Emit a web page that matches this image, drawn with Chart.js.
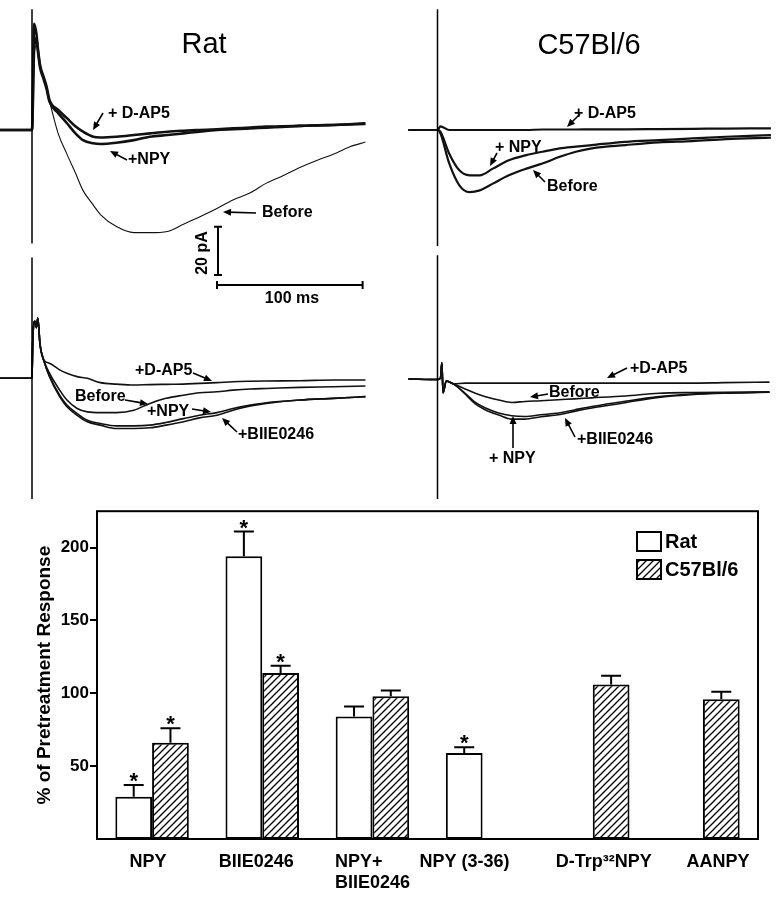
<!DOCTYPE html>
<html>
<head>
<meta charset="utf-8">
<title>NPY and NMDA responses</title>
<script src="https://cdn.jsdelivr.net/npm/chart.js@4.4.1/dist/chart.umd.min.js"></script>
<style>
  body { margin: 0; background: #fff; }
  canvas { display: block; }
</style>
</head>
<body>
<canvas id="traces" width="784" height="500"></canvas>
<canvas id="bars" width="784" height="399"></canvas>
<script>
// ---- traces (time in ms from stimulus, current in pA from baseline) ----
const ratTopTime = [-22, 0, 1.5, 3, 4, 5.5, 8, 10, 12, 18, 24, 30, 35, 42, 47, 58, 70, 81, 93, 104, 115, 127, 138, 150, 161, 172, 184, 196, 207, 218, 229];
const ratTopBefore = [0, 0, 31, 35, 33, 26, 21, 17, 12, -1.5, -10, -18, -25, -31, -35, -40, -42.5, -42.5, -42, -39, -36, -32.5, -29, -26, -22, -19, -15.5, -12.5, -10, -7, -5];
const ratTopNPY = [0, 0, 34, 38, 33, 26, 21, 17, 11.8, 7, 2.8, -1.5, -4.2, -5.5, -5.8, -5.3, -4.2, -2.8, -2.1, -1.4, -0.7, 0, 0.3, 0.6, 1, 1.3, 1.7, 1.9, 2.1, 2.3, 2.5];
const ratTopDAP5 = [0, 0, 44, 40, 34, 27, 22, 18, 12.5, 8.3, 4.9, 1.4, -0.7, -2.8, -3.1, -2.8, -2.1, -1.4, -0.7, -0.3, 0, 0.3, 0.7, 1, 1.4, 1.5, 1.7, 1.9, 2.1, 2.4, 2.8];

const c57TopTime = [-20, 0, 2, 8, 15, 22, 29, 38, 49, 61, 72, 84, 95, 106, 129, 152, 175, 198, 229];
const c57TopBefore = [0, 0, -1.4, -13.75, -22.9, -25.7, -25, -22.2, -18.75, -16, -13.9, -11.1, -9, -7.6, -6.25, -5.1, -4.6, -3.75, -3.2];
const c57TopNPY = [0, 0, -0.7, -9.7, -16.7, -18.75, -18.75, -16, -12.5, -10.4, -9, -7.6, -6.9, -6.25, -4.9, -4.2, -3.5, -2.8, -2.1];
const c57TopDAP5 = [0, 0, 1.5, 0, 0, 0, 0, 0, 0, 0, 0.2, 0.2, 0.2, 0.3, 0.3, 0.4, 0.5, 0.6, 0.7];

const ratBotTime = [-22, 0, 0.5, 2, 3, 4, 5.5, 8, 12, 19, 24, 31, 38, 47, 58, 70, 81, 92, 104, 115, 127, 138, 150, 161, 184, 207, 229];
const ratBotDAP5 = [0, 0, 15, 23.6, 21, 25, 14, 7.6, 6.25, 3.5, 2.1, 0.7, 0, -1.8, -2.4, -2.8, -2.6, -2.5, -2.4, -2.1, -1.8, -1.4, -1.2, -1.1, -1.0, -0.7, -0.7];
const ratBotBefore = [0, 0, 15, 23.6, 21, 25, 14, 7.6, 2.1, -4.9, -9, -12.5, -13.9, -14.2, -14.2, -13.2, -10.4, -8.3, -7, -6, -5.6, -4.9, -4.4, -4.2, -3.75, -3.5, -3.2];
const ratBotNPY = [0, 0, 15, 23.6, 21, 25, 14, 7.6, 1, -7, -11.1, -14.6, -17.4, -18.75, -19.7, -19.7, -19.4, -18.3, -16.7, -15.3, -14.2, -12.5, -11.1, -10.1, -9, -8.3, -7.6];
const ratBotBIIE = [0, 0, 15, 23.6, 21, 25, 14, 7.6, 0.7, -7.6, -11.8, -15.3, -18, -19.4, -20.8, -20.8, -20.5, -19.4, -18, -16.4, -15.3, -13.2, -11.5, -10.4, -9, -8.3, -7.6];

const c57BotTime = [-20, 0, 2, 3, 3.8, 6, 8, 11, 19, 26, 33, 42, 51, 60, 71, 83, 94, 106, 129, 152, 174, 197, 228];
const c57BotDAP5 = [-0.3, -0.5, 0, 6.4, -6, -1.1, -1.5, -2.3, -2, -2, -2, -2, -2, -2, -2, -2, -2, -2, -2, -2, -2, -1.8, -1.6];
const c57BotBefore = [-0.3, -0.5, 0, 6.4, -6, -1.1, -1.5, -2.3, -4.4, -6.2, -7.6, -9, -10, -9.6, -9.3, -8.9, -8.5, -8.1, -7.3, -6.2, -5.9, -5.8, -5.8];
const c57BotNPY = [-0.3, -0.5, 0, 6.4, -6, -1.1, -1.5, -2.3, -6.5, -10.6, -13.1, -15.2, -16.9, -16.9, -15.9, -15.1, -13.7, -12.3, -10.1, -7.9, -6.8, -6.2, -5.8];
const c57BotBIIE = [-0.3, -0.5, 0, 6.4, -6, -1.1, -1.5, -2.3, -6.2, -10, -12.3, -14.4, -15.5, -15.8, -15.1, -14.4, -13.1, -11.7, -9.5, -7.6, -6.5, -6, -5.6];

// stimulus artifacts (top, bottom of the vertical line, pA)
const ratTopStim = [50, -47];
const c57TopStim = [50, -48];
const ratBotStim = [50, -50];
const c57BotStim = [51, -50];

// ---- bar chart ----
const categories = [['NPY'], ['BIIE0246'], ['NPY+', 'BIIE0246'], ['NPY (3-36)'], ['D-Trp\u00B3\u00B2NPY'], ['AANPY']];
const seriesNames = ['Rat', 'C57Bl/6'];
const ratValues = [29, 194, 84, 59, null, null];
const ratErr = [8, 17, 7, 4, null, null];
const ratStar = [true, true, false, true, false, false];
const c57Values = [66, 114, 98, null, 106, 96];
const c57Err = [10, 5, 4, null, 6, 5];
const c57Star = [true, true, false, false, false, false];
const yTicks = [50, 100, 150, 200];

const FONT = '"Liberation Sans", Arial, Helvetica, sans-serif';
Chart.defaults.font.family = FONT;
Chart.defaults.color = '#000';

// trace canvas geometry: 1.456 px per ms, 2.415 px per pA
const W = 784, H = 500, msPx = 1.456, pAPx = 2.415;
function xRange(stimPx) { const min = -stimPx / msPx; return { min, max: min + W / msPx }; }
function yRange(basePx) { const max = basePx / pAPx; return { min: max - H / pAPx, max }; }

function trace(xAxisID, yAxisID, times, vals, width) {
  return {
    xAxisID, yAxisID,
    data: times.map((t, i) => ({ x: t, y: vals[i] })),
    borderColor: '#111', borderWidth: width, pointRadius: 0,
    cubicInterpolationMode: 'monotone', borderJoinStyle: 'round', clip: false, fill: false
  };
}
function stim(xAxisID, yAxisID, span) {
  return {
    xAxisID, yAxisID,
    data: [{ x: 0, y: span[0] }, { x: 0, y: span[1] }],
    borderColor: '#000', borderWidth: 1.5, pointRadius: 0, clip: false
  };
}

function arrow(ctx, x1, y1, x2, y2) {
  const a = Math.atan2(y2 - y1, x2 - x1);
  ctx.beginPath();
  ctx.moveTo(x1, y1);
  ctx.lineTo(x2 - 5 * Math.cos(a), y2 - 5 * Math.sin(a));
  ctx.stroke();
  ctx.beginPath();
  ctx.moveTo(x2, y2);
  ctx.lineTo(x2 - 8 * Math.cos(a) + 3.5 * Math.sin(a), y2 - 8 * Math.sin(a) - 3.5 * Math.cos(a));
  ctx.lineTo(x2 - 8 * Math.cos(a) - 3.5 * Math.sin(a), y2 - 8 * Math.sin(a) + 3.5 * Math.cos(a));
  ctx.closePath();
  ctx.fill();
}

// labels and arrows on the traces
const traceLabels = [
  ['+ D-AP5', 108, 114], ['+NPY', 128, 160], ['Before', 262, 213],
  ['+ D-AP5', 574, 114], ['+ NPY', 495, 148], ['Before', 547, 187],
  ['+D-AP5', 135, 371], ['Before', 75, 397], ['+NPY', 147, 412], ['+BIIE0246', 238, 435],
  ['+D-AP5', 630, 369], ['Before', 549, 393], ['+BIIE0246', 577, 440], ['+ NPY', 489, 459]
];
const traceArrows = [
  [103, 113, 93, 130], [127, 160, 110, 151], [256, 213, 223, 212],
  [580, 114, 567, 127], [497, 153, 490, 166], [545, 182, 533, 170],
  [193, 373, 212, 381], [125, 400, 148, 404], [192, 409, 211, 412], [237, 432, 222, 418],
  [627, 368, 607, 378], [548, 394, 530, 397], [575, 437, 565, 418], [513, 448, 513, 416]
];

const traceNotes = {
  id: 'traceNotes',
  afterDraw(chart) {
    const { ctx, scales } = chart;
    ctx.save();
    ctx.fillStyle = '#000';
    ctx.strokeStyle = '#000';
    ctx.textBaseline = 'middle';
    ctx.textAlign = 'center';
    ctx.font = '29px ' + FONT;
    ctx.fillText('Rat', 204, 45);
    ctx.fillText('C57Bl/6', 589, 46);

    ctx.font = 'bold 16px ' + FONT;
    ctx.textAlign = 'left';
    traceLabels.forEach(([t, x, y]) => ctx.fillText(t, x, y));
    ctx.lineWidth = 1.6;
    traceArrows.forEach(a => arrow(ctx, ...a));

    // scale bars: 20 pA and 100 ms
    const xs = scales.xL, ys = scales.yT;
    const len100 = xs.getPixelForValue(100) - xs.getPixelForValue(0);
    const len20 = ys.getPixelForValue(0) - ys.getPixelForValue(20);
    ctx.lineWidth = 2;
    ctx.beginPath();
    ctx.moveTo(218, 275); ctx.lineTo(218, 275 - len20);
    ctx.moveTo(214, 275); ctx.lineTo(222, 275);
    ctx.moveTo(214, 275 - len20); ctx.lineTo(222, 275 - len20);
    ctx.moveTo(217, 285); ctx.lineTo(217 + len100, 285);
    ctx.moveTo(217, 281); ctx.lineTo(217, 289);
    ctx.moveTo(217 + len100, 281); ctx.lineTo(217 + len100, 289);
    ctx.stroke();
    ctx.textAlign = 'center';
    ctx.fillText('100 ms', 292, 299);
    ctx.save();
    ctx.translate(203, 253);
    ctx.rotate(-Math.PI / 2);
    ctx.fillText('20 pA', 0, 0);
    ctx.restore();
    ctx.restore();
  }
};

const xL = xRange(32), xR = xRange(437.5), yT = yRange(130), yB = yRange(378.3);

new Chart(document.getElementById('traces'), {
  type: 'line',
  data: {
    datasets: [
      stim('xL', 'yT', ratTopStim),
      trace('xL', 'yT', ratTopTime, ratTopDAP5, 2.6),
      trace('xL', 'yT', ratTopTime, ratTopNPY, 2.6),
      trace('xL', 'yT', ratTopTime, ratTopBefore, 1.1),
      stim('xR', 'yT', c57TopStim),
      trace('xR', 'yT', c57TopTime, c57TopDAP5, 2.2),
      trace('xR', 'yT', c57TopTime, c57TopNPY, 2.2),
      trace('xR', 'yT', c57TopTime, c57TopBefore, 2.2),
      stim('xL', 'yB', ratBotStim),
      trace('xL', 'yB', ratBotTime, ratBotDAP5, 1.6),
      trace('xL', 'yB', ratBotTime, ratBotBefore, 1.6),
      trace('xL', 'yB', ratBotTime, ratBotNPY, 1.6),
      trace('xL', 'yB', ratBotTime, ratBotBIIE, 1.6),
      stim('xR', 'yB', c57BotStim),
      trace('xR', 'yB', c57BotTime, c57BotDAP5, 1.6),
      trace('xR', 'yB', c57BotTime, c57BotBefore, 1.6),
      trace('xR', 'yB', c57BotTime, c57BotNPY, 1.6),
      trace('xR', 'yB', c57BotTime, c57BotBIIE, 1.6)
    ]
  },
  options: {
    responsive: false,
    animation: false,
    devicePixelRatio: 1,
    layout: { padding: 0 },
    plugins: { legend: { display: false }, tooltip: { enabled: false } },
    scales: {
      xL: { type: 'linear', axis: 'x', display: false, min: xL.min, max: xL.max },
      xR: { type: 'linear', axis: 'x', display: false, min: xR.min, max: xR.max },
      yT: { type: 'linear', axis: 'y', display: false, min: yT.min, max: yT.max },
      yB: { type: 'linear', axis: 'y', display: false, min: yB.min, max: yB.max }
    }
  },
  plugins: [traceNotes]
});

// hatch for the mouse bars
function hatch() {
  const s = 7;
  const c = document.createElement('canvas');
  c.width = s; c.height = s;
  const p = c.getContext('2d');
  p.fillStyle = '#fff';
  p.fillRect(0, 0, s, s);
  p.strokeStyle = '#000';
  p.lineWidth = 1.3;
  p.beginPath();
  p.moveTo(0, s); p.lineTo(s, 0);
  p.moveTo(-1, 1); p.lineTo(1, -1);
  p.moveTo(s - 1, s + 1); p.lineTo(s + 1, s - 1);
  p.stroke();
  return p.createPattern(c, 'repeat');
}

const labelShift = [-4, -6, 0, -18, 11, 15];
const errs = [ratErr, c57Err];
const stars = [ratStar, c57Star];

const barExtras = {
  id: 'barExtras',
  afterDraw(chart) {
    const { ctx, chartArea: a, scales: { x, y } } = chart;
    ctx.save();
    ctx.strokeStyle = '#000';
    ctx.fillStyle = '#000';
    ctx.lineWidth = 2;
    ctx.strokeRect(a.left, a.top, a.right - a.left, a.bottom - a.top);

    // error bars and significance marks
    chart.data.datasets.forEach((ds, di) => {
      chart.getDatasetMeta(di).data.forEach((bar, i) => {
        const v = ds.data[i];
        if (v == null) return;
        const top = y.getPixelForValue(v);
        const cap = y.getPixelForValue(v + errs[di][i]);
        ctx.beginPath();
        ctx.moveTo(bar.x, top); ctx.lineTo(bar.x, cap);
        ctx.moveTo(bar.x - 10, cap); ctx.lineTo(bar.x + 10, cap);
        ctx.stroke();
        if (stars[di][i]) {
          ctx.font = 'bold 22px ' + FONT;
          ctx.textAlign = 'center';
          ctx.textBaseline = 'alphabetic';
          ctx.fillText('*', bar.x, cap - 9 + 12);
        }
      });
    });

    // legend
    const fills = chart.data.datasets.map(d => d.backgroundColor);
    ctx.font = 'bold 20px ' + FONT;
    ctx.textAlign = 'left';
    ctx.textBaseline = 'middle';
    seriesNames.forEach((n, i) => {
      const by = 32 + i * 28;
      ctx.fillStyle = fills[i];
      ctx.fillRect(637, by, 24, 19);
      ctx.strokeRect(637, by, 24, 19);
      ctx.fillStyle = '#000';
      ctx.fillText(n, 665, by + 10);
    });

    // category labels
    ctx.font = 'bold 18px ' + FONT;
    ctx.textAlign = 'left';
    ctx.textBaseline = 'middle';
    categories.forEach((lines, i) => {
      const w = Math.max(...lines.map(l => ctx.measureText(l).width));
      const left = x.getPixelForValue(i) + labelShift[i] - w / 2;
      lines.forEach((l, j) => ctx.fillText(l, left, a.bottom + 23 + j * 21));
    });
    ctx.restore();
  }
};

new Chart(document.getElementById('bars'), {
  type: 'bar',
  data: {
    labels: categories.map(c => c.join(' ')),
    datasets: [
      { label: seriesNames[0], data: ratValues, backgroundColor: '#fff', borderColor: '#000', borderWidth: 2, borderSkipped: false },
      { label: seriesNames[1], data: c57Values, backgroundColor: hatch(), borderColor: '#000', borderWidth: 2, borderSkipped: false }
    ]
  },
  options: {
    responsive: false,
    animation: false,
    devicePixelRatio: 1,
    layout: { padding: { top: 9, right: 26, left: 0, bottom: 0 } },
    datasets: { bar: { categoryPercentage: 0.667, barPercentage: 1 } },
    plugins: { legend: { display: false }, tooltip: { enabled: false } },
    scales: {
      x: {
        ticks: { display: false },
        grid: { display: false },
        border: { display: false },
        afterFit: s => { s.height = 60; }
      },
      y: {
        min: 0,
        max: 225,
        afterBuildTicks: s => { s.ticks = yTicks.map(v => ({ value: v })); },
        ticks: { font: { size: 17, weight: 'bold' }, padding: 1, color: '#000' },
        grid: { drawOnChartArea: false, tickLength: 7, color: '#000', lineWidth: 2 },
        border: { display: false },
        title: {
          display: true,
          text: '% of Pretreatment Response',
          font: { size: 19, weight: 'bold' },
          padding: { top: 33, bottom: 0 }
        },
        afterFit: s => { s.width = 97; }
      }
    }
  },
  plugins: [barExtras]
});
</script>
</body>
</html>
